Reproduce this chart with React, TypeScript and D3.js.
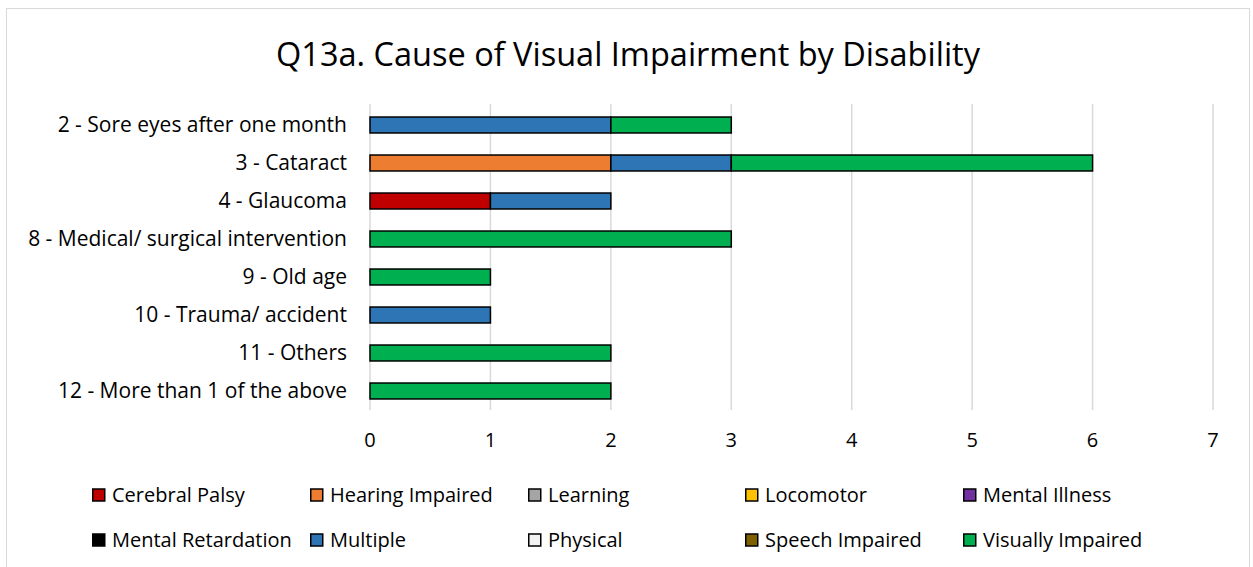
import React from "react";
import * as d3 from "d3";

const categories = [
  "2 - Sore eyes after one month",
  "3 - Cataract",
  "4 - Glaucoma",
  "8 - Medical/ surgical intervention",
  "9 - Old age",
  "10 - Trauma/ accident",
  "11 - Others",
  "12 - More than 1 of the above",
];

const seriesNames = [
  "Cerebral Palsy",
  "Hearing Impaired",
  "Learning",
  "Locomotor",
  "Mental Illness",
  "Mental Retardation",
  "Multiple",
  "Physical",
  "Speech Impaired",
  "Visually Impaired",
];

const seriesColors = [
  "#C00000",
  "#ED7D31",
  "#A5A5A5",
  "#FFC000",
  "#7030A0",
  "#000000",
  "#2E75B6",
  "#F2F2F2",
  "#7F6000",
  "#00B050",
];

// values per series, aligned with categories
const cerebralPalsy = [0, 0, 1, 0, 0, 0, 0, 0];
const hearingImpaired = [0, 2, 0, 0, 0, 0, 0, 0];
const learning = [0, 0, 0, 0, 0, 0, 0, 0];
const locomotor = [0, 0, 0, 0, 0, 0, 0, 0];
const mentalIllness = [0, 0, 0, 0, 0, 0, 0, 0];
const mentalRetardation = [0, 0, 0, 0, 0, 0, 0, 0];
const multiple = [2, 1, 1, 0, 0, 1, 0, 0];
const physical = [0, 0, 0, 0, 0, 0, 0, 0];
const speechImpaired = [0, 0, 0, 0, 0, 0, 0, 0];
const visuallyImpaired = [1, 3, 0, 3, 1, 0, 2, 2];

const xTicks = [0, 1, 2, 3, 4, 5, 6, 7];

const seriesValues = [
  cerebralPalsy,
  hearingImpaired,
  learning,
  locomotor,
  mentalIllness,
  mentalRetardation,
  multiple,
  physical,
  speechImpaired,
  visuallyImpaired,
];

const FONT = "'Open Sans', sans-serif";

export default function App() {
  const W = 1253;
  const H = 567;
  const plot = { left: 370, right: 1213, top: 106, bottom: 410 };

  const x = d3.scaleLinear().domain([0, 7]).range([plot.left, plot.right]);
  const y = d3
    .scaleBand<string>()
    .domain(categories)
    .range([plot.top, plot.bottom])
    .paddingInner(0.58)
    .paddingOuter(0.29);

  const rows = categories.map((c, i) => {
    const obj: Record<string, any> = { cat: c };
    seriesNames.forEach((s, j) => (obj[s] = seriesValues[j][i]));
    return obj;
  });
  const stack = d3.stack<any>().keys(seriesNames)(rows);

  const legendX = [92, 310, 528, 745, 963];
  const legendY = [495, 540];

  return (
    <svg
      width={W}
      height={H}
      style={{ position: "absolute", left: 0, top: 0, background: "#fff" }}
    >
      <rect x={6.5} y={8.5} width={1243} height={570} fill="#fff" stroke="#D9D9D9" />
      <text
        x={628}
        y={66}
        textAnchor="middle"
        fontFamily={FONT}
        fontSize={32.5}
        fill="#000"
      >
        Q13a. Cause of Visual Impairment by Disability
      </text>

      {xTicks.map((t) => (
        <g key={t}>
          <line
            x1={x(t)}
            x2={x(t)}
            y1={plot.top - 2}
            y2={plot.bottom}
            stroke="#D9D9D9"
            strokeWidth={1.5}
          />
          <text
            x={x(t)}
            y={440}
            dy="0.35em"
            textAnchor="middle"
            fontFamily={FONT}
            fontSize={20}
            fill="#000"
          >
            {t}
          </text>
        </g>
      ))}

      {categories.map((c) => (
        <text
          key={c}
          x={347}
          y={(y(c) as number) + y.bandwidth() / 2}
          dy="0.35em"
          textAnchor="end"
          fontFamily={FONT}
          fontSize={21}
          fill="#000"
        >
          {c}
        </text>
      ))}

      {stack.map((layer, si) =>
        layer.map((d, ci) =>
          d[1] - d[0] > 0 ? (
            <rect
              key={`${si}-${ci}`}
              x={x(d[0])}
              y={y(categories[ci]) as number}
              width={x(d[1]) - x(d[0])}
              height={y.bandwidth()}
              fill={seriesColors[si]}
              stroke="#000"
              strokeWidth={1.5}
            />
          ) : null
        )
      )}

      {seriesNames.map((s, i) => {
        const row = Math.floor(i / 5);
        const col = i % 5;
        const lx = legendX[col];
        const ly = legendY[row];
        return (
          <g key={s}>
            <rect
              x={lx + 0.75}
              y={ly - 6}
              width={12}
              height={12}
              fill={seriesColors[i]}
              stroke="#000"
              strokeWidth={1.5}
            />
            <text
              x={lx + 20}
              y={ly}
              dy="0.35em"
              fontFamily={FONT}
              fontSize={20}
              fill="#000"
            >
              {s}
            </text>
          </g>
        );
      })}
    </svg>
  );
}
